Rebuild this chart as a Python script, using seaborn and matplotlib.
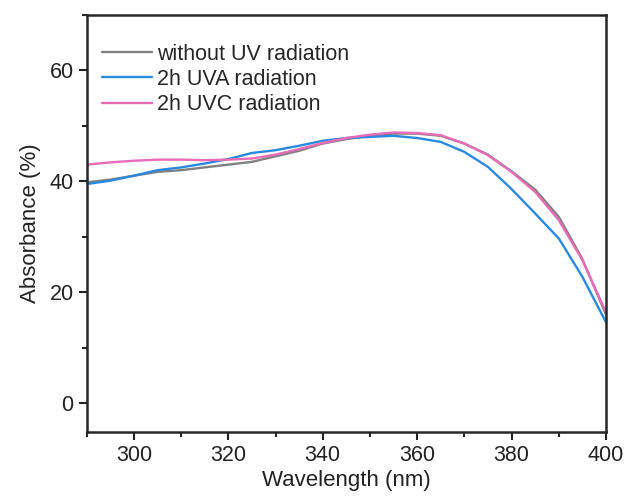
import numpy as np
import pandas as pd
import matplotlib
matplotlib.use('Agg')
import matplotlib.pyplot as plt
import seaborn as sns
from matplotlib.ticker import MultipleLocator

wavelength = [290, 295, 300, 305, 310, 315, 320, 325, 330, 335, 340, 345,
              350, 355, 360, 365, 370, 375, 380, 385, 390, 395, 400]
without_uv = [39.8, 40.3, 41.0, 41.7, 42.0, 42.5, 43.0, 43.5, 44.5, 45.5, 46.8, 47.6,
              48.2, 48.6, 48.6, 48.2, 46.8, 44.8, 41.8, 38.5, 33.6, 26.0, 16.0]
uva_2h = [39.5, 40.1, 41.0, 42.0, 42.5, 43.2, 44.0, 45.1, 45.6, 46.4, 47.3, 47.8,
          48.0, 48.2, 47.8, 47.1, 45.3, 42.6, 38.6, 34.2, 29.7, 22.8, 14.6]
uvc_2h = [43.0, 43.4, 43.7, 43.9, 43.9, 43.8, 43.9, 44.1, 44.8, 45.8, 46.9, 47.8,
          48.4, 48.8, 48.7, 48.3, 46.8, 44.7, 41.7, 38.1, 33.0, 25.8, 16.4]

labels = ['without UV radiation', '2h UVA radiation', '2h UVC radiation']
colors = ['#808080', '#2a8ade', '#e86cb6']

df = pd.DataFrame({'Wavelength': wavelength,
                   labels[0]: without_uv,
                   labels[1]: uva_2h,
                   labels[2]: uvc_2h})
long = df.melt(id_vars='Wavelength', var_name='Sample', value_name='Absorbance')

sns.set_style('ticks')
plt.rcParams['font.family'] = ['Liberation Sans', 'DejaVu Sans']

fig = plt.figure(figsize=(6.24, 4.97), dpi=100)
ax = fig.add_axes([0.139, 0.131, 0.832, 0.839])
sns.lineplot(data=long, x='Wavelength', y='Absorbance', hue='Sample',
             hue_order=labels, palette=colors, linewidth=1.7, ax=ax)

ax.set_xlim(290, 400)
ax.set_ylim(-5.2, 70)
ax.xaxis.set_major_locator(MultipleLocator(20))
ax.xaxis.set_minor_locator(MultipleLocator(10))
ax.yaxis.set_major_locator(MultipleLocator(20))
ax.yaxis.set_minor_locator(MultipleLocator(10))
ax.tick_params(which='major', length=6, width=1.5, labelsize=15.5, colors='#222222')
ax.tick_params(which='minor', length=3.5, width=1.5)
for s in ax.spines.values():
    s.set_linewidth(1.8)
    s.set_visible(True)
ax.set_xlabel('Wavelength (nm)', fontsize=16, color='#222222', labelpad=3)
ax.set_ylabel('Absorbance (%)', fontsize=16, color='#222222', labelpad=6)
ax.legend(loc='upper left', bbox_to_anchor=(0.013, 0.952), borderaxespad=0,
          frameon=False, fontsize=15.5, handlelength=2.3, handletextpad=0.25,
          labelspacing=0.2)

fig.savefig('out.png', dpi=100)
